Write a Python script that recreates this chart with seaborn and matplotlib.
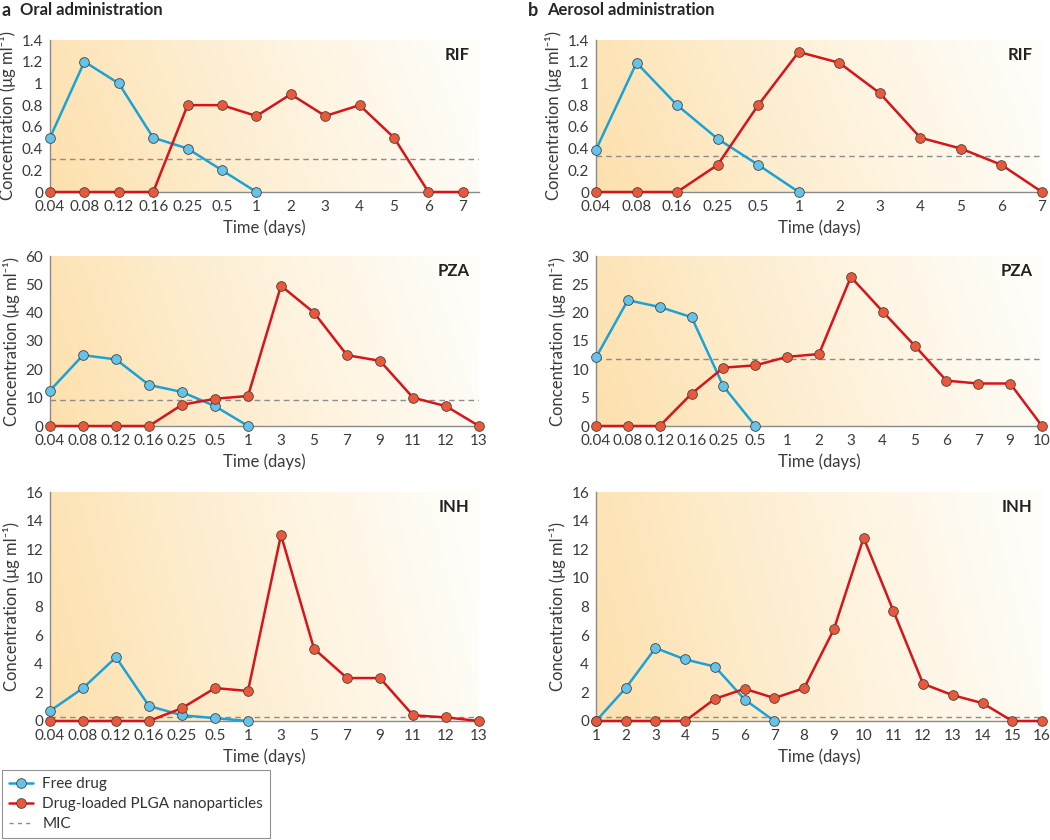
import numpy as np
import matplotlib
matplotlib.use('Agg')
import matplotlib.pyplot as plt
from matplotlib.colors import LinearSegmentedColormap
from matplotlib.lines import Line2D
from matplotlib.ticker import FormatStrFormatter
import seaborn as sns

sns.set_style('white')
plt.rcParams['font.family'] = ['Lato', 'DejaVu Sans']

# --- data ---
# a: oral administration
oral_rif_x = ['0.04', '0.08', '0.12', '0.16', '0.25', '0.5', '1', '2', '3', '4', '5', '6', '7']
oral_rif_free = [0.5, 1.2, 1.0, 0.5, 0.4, 0.2, 0.0]
oral_rif_plga = [0, 0, 0, 0, 0.8, 0.8, 0.7, 0.9, 0.7, 0.8, 0.5, 0, 0]
oral_rif_mic = 0.3

oral_pza_x = ['0.04', '0.08', '0.12', '0.16', '0.25', '0.5', '1', '3', '5', '7', '9', '11', '12', '13']
oral_pza_free = [12.5, 25, 23.5, 14.5, 12, 7, 0]
oral_pza_plga = [0, 0, 0, 0, 7.5, 9.6, 10.6, 49.5, 40, 25, 23, 10, 7, 0]
oral_pza_mic = 9.2

oral_inh_x = oral_pza_x
oral_inh_free = [0.7, 2.3, 4.45, 1.05, 0.4, 0.2, 0]
oral_inh_plga = [0, 0, 0, 0, 0.9, 2.3, 2.1, 13, 5.05, 3.0, 3.0, 0.4, 0.25, 0]
oral_inh_mic = 0.25

# b: aerosol administration
aer_rif_x = ['0.04', '0.08', '0.16', '0.25', '0.5', '1', '2', '3', '4', '5', '6', '7']
aer_rif_free = [0.39, 1.19, 0.8, 0.49, 0.25, 0]
aer_rif_plga = [0, 0, 0, 0.25, 0.8, 1.29, 1.19, 0.91, 0.5, 0.4, 0.25, 0]
aer_rif_mic = 0.33

aer_pza_x = ['0.04', '0.08', '0.12', '0.16', '0.25', '0.5', '1', '2', '3', '4', '5', '6', '7', '9', '10']
aer_pza_free = [12.1, 22.2, 21.0, 19.2, 7.0, 0]
aer_pza_plga = [0, 0, 0, 5.7, 10.3, 10.7, 12.2, 12.7, 26.3, 20.2, 14.2, 8.0, 7.5, 7.5, 0]
aer_pza_mic = 11.8

aer_inh_x = [str(d) for d in range(1, 17)]
aer_inh_free = [0, 2.3, 5.1, 4.3, 3.8, 1.5, 0]
aer_inh_plga = [0, 0, 0, 0, 1.55, 2.25, 1.6, 2.3, 6.4, 12.8, 7.7, 2.6, 1.8, 1.25, 0, 0]
aer_inh_mic = 0.25

FREE_LINE = '#1aa3d6'
FREE_FACE = '#62c4ea'
PLGA_LINE = '#d8141b'
PLGA_FACE = '#e9583a'
EDGE = '#4f403a'
MS = 7

bg_cmap = LinearSegmentedColormap.from_list('bg', ['#fde0ad', '#fef0d6', '#fffdf8'])

fig = plt.figure(figsize=(10.5, 8.4), dpi=100)

W, H = 1050, 840
cols = [(50, 479), (596, 1042)]
rows = [(40, 192), (256, 426), (492, 721)]

panels = [
    [(oral_rif_x, oral_rif_free, oral_rif_plga, oral_rif_mic, 'RIF', 1.4, 0.2, 12.47),
     (oral_pza_x, oral_pza_free, oral_pza_plga, oral_pza_mic, 'PZA', 60, 10, None),
     (oral_inh_x, oral_inh_free, oral_inh_plga, oral_inh_mic, 'INH', 16, 2, None)],
    [(aer_rif_x, aer_rif_free, aer_rif_plga, aer_rif_mic, 'RIF', 1.4, 0.2, None),
     (aer_pza_x, aer_pza_free, aer_pza_plga, aer_pza_mic, 'PZA', 30, 5, None),
     (aer_inh_x, aer_inh_free, aer_inh_plga, aer_inh_mic, 'INH', 16, 2, None)],
]

# background gradient (fades to the right, a little stronger lower-left)
gx = np.linspace(0, 1, 300)
gy = np.linspace(0, 1, 60)
GX, GY = np.meshgrid(gx, gy)
grad = np.clip(GX * 0.95 + GY * 0.12, 0, 1)

for c, (x0, x1) in enumerate(cols):
    for r, (y0, y1) in enumerate(rows):
        xt, free, plga, mic, name, ymax, ystep, xr = panels[c][r]
        ax = fig.add_axes([x0 / W, 1 - y1 / H, (x1 - x0) / W, (y1 - y0) / H])
        ax.imshow(grad, cmap=bg_cmap, extent=(0, 1, 0, 1), transform=ax.transAxes,
                  aspect='auto', zorder=0, origin='lower', vmin=0, vmax=1)
        n = len(xt)
        pos = np.arange(n)
        ax.axhline(mic, color='#8c8c8c', lw=1.0, ls=(0, (4, 3)), zorder=1)
        sns.lineplot(x=pos[:len(free)], y=free, ax=ax, color=FREE_LINE, lw=1.8,
                     marker='o', markersize=MS, markerfacecolor=FREE_FACE,
                     markeredgecolor=EDGE, markeredgewidth=0.6, zorder=3,
                     clip_on=False, label='Free drug')
        sns.lineplot(x=pos[:len(plga)], y=plga, ax=ax, color=PLGA_LINE, lw=1.8,
                     marker='o', markersize=MS, markerfacecolor=PLGA_FACE,
                     markeredgecolor=EDGE, markeredgewidth=0.6, zorder=4,
                     clip_on=False, label='Drug-loaded PLGA nanoparticles')
        ax.get_legend().remove()
        ax.set_xlim(0, xr if xr else n - 1)
        ax.set_ylim(0, ymax)
        ax.set_xticks(pos)
        ax.set_xticklabels(xt)
        ax.set_yticks(np.arange(0, ymax + ystep / 2, ystep))
        ax.yaxis.set_major_formatter(FormatStrFormatter('%g'))
        ax.tick_params(axis='y', length=3, width=0.8, color='#777777', labelsize=11,
                       labelcolor='#3a3a3a', pad=2)
        ax.tick_params(axis='x', length=0, labelsize=11, labelcolor='#3a3a3a', pad=6)
        for s in ['top', 'right']:
            ax.spines[s].set_visible(False)
        for s in ['left', 'bottom']:
            ax.spines[s].set_color('#8a8a8a')
            ax.spines[s].set_linewidth(1.0)
        ax.set_xlabel('Time (days)', fontsize=12, color='#3a3a3a', labelpad=4)
        ax.set_ylabel('Concentration (μg ml⁻¹)', fontsize=12, color='#3a3a3a',
                      labelpad=4)
        ax.annotate(name, xy=(1, 1), xycoords='axes fraction', xytext=(-7, -11),
                    textcoords='offset points', ha='right', va='center',
                    fontsize=12, fontweight='bold', color='#222222')

fig.text(2 / W, 1 - 10 / H, 'a', fontsize=13, fontweight='bold', va='center', ha='left')
fig.text(20 / W, 1 - 10 / H, 'Oral administration', fontsize=12, fontweight='bold',
         va='center', ha='left')
fig.text(528 / W, 1 - 10 / H, 'b', fontsize=13, fontweight='bold', va='center', ha='left')
fig.text(547 / W, 1 - 10 / H, 'Aerosol administration', fontsize=12, fontweight='bold',
         va='center', ha='left')

handles = [
    Line2D([], [], color=FREE_LINE, lw=1.8, marker='o', markersize=MS,
           markerfacecolor=FREE_FACE, markeredgecolor=EDGE, markeredgewidth=0.6),
    Line2D([], [], color=PLGA_LINE, lw=1.8, marker='o', markersize=MS,
           markerfacecolor=PLGA_FACE, markeredgecolor=EDGE, markeredgewidth=0.6),
    Line2D([], [], color='#8c8c8c', lw=1.0, ls=(0, (3, 3))),
]
labels = ['Free drug', 'Drug-loaded PLGA nanoparticles', 'MIC']
leg = fig.legend(handles, labels, loc='lower left', bbox_to_anchor=(2 / W, 2 / H),
                 frameon=True, fancybox=False, fontsize=11, handlelength=1.6,
                 handletextpad=0.6, borderpad=0.45, labelspacing=0.4,
                 borderaxespad=0)
leg.get_frame().set_edgecolor('#777777')
leg.get_frame().set_linewidth(0.8)
for t in leg.get_texts():
    t.set_color('#333333')

fig.savefig('out.png', dpi=100)
